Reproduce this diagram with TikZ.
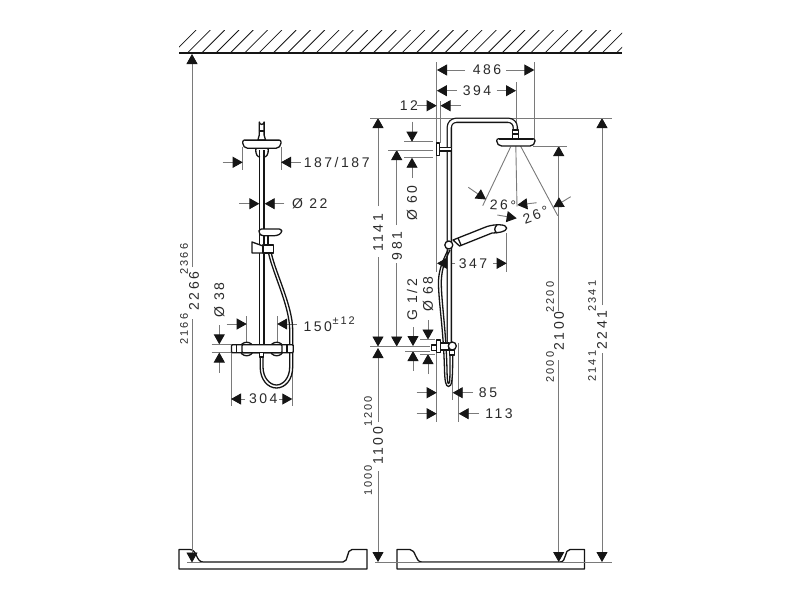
\documentclass[tikz,border=0pt]{standalone}
\usepackage{fontspec}
\newfontfamily\dimfont[LetterSpace=18]{Liberation Sans}
\usetikzlibrary{arrows.meta}
\definecolor{gl}{HTML}{7A7A7A}
\definecolor{ink}{HTML}{151515}
\definecolor{txt}{HTML}{2A2A2A}
\tikzset{
  ref/.style={draw=gl,line width=0.9pt},
  da/.style={draw=gl,line width=0.9pt,-{Triangle[length=10pt,width=11pt,color=ink,fill=ink]}},
  body/.style={draw=ink,line width=1.3pt,fill=white,line join=round},
  open/.style={draw=ink,line width=1.3pt,line join=round},
  tube/.style={draw=ink,line width=1.3pt,double=white,double distance=2.8pt,line join=round},
  big/.style={text=txt,inner sep=0pt,font=\dimfont\fontsize{14}{14}\selectfont},
  small/.style={text=txt,inner sep=0pt,font=\dimfont\fontsize{11}{11}\selectfont},
  up/.style={rotate=90}
}
\begin{document}
\begin{tikzpicture}[x=1pt,y=-1pt]
\useasboundingbox (0,0) rectangle (800,600);
\fill[white] (0,0) rectangle (800,600);
% ceiling
\begin{scope}
\clip (179,30) rectangle (622,53);
\foreach \k in {-2,...,30}{\draw[ink,line width=0.8pt] ({201.7+14.3*\k},53) -- ++(23,-23);}
\end{scope}
\draw[ink,line width=1.6pt] (179,53) -- (622,53);
% tubs
\draw[open] (179,549.5) -- (179,569) -- (367,569) -- (367,549.5) -- (352,549.5) .. controls (346,549.5) and (349,562) .. (343,562) -- (203,562) .. controls (196,562) and (197,549.5) .. (190,549.5) -- cycle;
\draw[open] (397,549.5) -- (397,569) -- (584.5,569) -- (584.5,549.5) -- (570,549.5) .. controls (564,549.5) and (567,562) .. (560,562) -- (421.7,562) .. controls (415,562) and (416,549.5) .. (410,549.5) -- cycle;
\draw[ref] (187,562) -- (203,562);
\draw[ref] (375,562) -- (612,562);
% main height dims
\draw[da] (192,267) -- (192,54);
\draw[da] (192,319) -- (192,562.5);
\draw[da] (378,206) -- (378,118);
\draw[da] (378,257) -- (378,346.5);
\draw[da] (378,422) -- (378,348);
\draw[da] (378,471) -- (378,562);
\draw[da] (396.7,225) -- (396.7,150);
\draw[da] (396.7,263) -- (396.7,346.5);
\draw[da] (558.7,311) -- (558.7,146);
\draw[da] (558.7,360) -- (558.7,562);
\draw[da] (602,305) -- (602,118);
\draw[da] (602,353) -- (602,562);
\draw[ref] (370,118) -- (612,118);
\draw[ref] (533,146) -- (567,146);
\draw[ref] (388,150) -- (433,150);
\draw[ref] (370,346.7) -- (430,346.7);
% right extension lines
\draw[ref] (436.8,62) -- (436.8,272);
\draw[ref] (436.8,340) -- (436.8,422);
\draw[ref] (440.3,101) -- (440.3,143);
\draw[ref] (516,82) -- (516,140);
\draw[ref] (534.3,62) -- (534.3,143);
\draw[ref] (506.7,233) -- (506.7,272);
\draw[ref] (452.7,370) -- (452.7,400);
\draw[ref] (458.7,343) -- (458.7,421.7);
% right horizontal dims
\draw[da] (465,70) -- (437,70);
\draw[da] (506,70) -- (534.3,70);
\draw[da] (456.7,90.7) -- (436.9,90.7);
\draw[da] (496.7,90.7) -- (516,90.7);
\draw[da] (417,105.7) -- (436.7,105.7);
\draw[da] (460.7,105.7) -- (440.5,105.7);
\draw[da] (455,263.3) -- (437,263.3);
\draw[da] (493,263.3) -- (506.7,263.3);
\draw[da] (416.7,392.7) -- (436.7,392.7);
\draw[da] (473,392.7) -- (452.7,392.7);
\draw[da] (416.7,413.7) -- (436.7,413.7);
\draw[da] (479,413.7) -- (458.7,413.7);
% right vertical small dims
\draw[ref] (404,141.7) -- (433,141.7);
\draw[ref] (404,157.7) -- (433,157.7);
\draw[da] (412,121.7) -- (412,141.7);
\draw[da] (412,178) -- (412,157.7);
\draw[da] (413,327) -- (413,346);
\draw[da] (413,370.7) -- (413,351);
\draw[ref] (405,351) -- (430,351);
\draw[da] (428,320) -- (428,339.5);
\draw[da] (428,374) -- (428,354);
\draw[ref] (420,339.5) -- (435,339.5);
\draw[ref] (420,354) -- (435,354);
% spray lines + angle arrows
\draw[ref] (510.7,146.7) -- (482.7,205.7);
\draw[ref] (515.7,140) -- (517,206.7);
\draw[ref] (520,145) -- (557.7,215.7);
\draw[da] (468.3,187.3) -- (486,199.5);
\draw[da] (497.3,215) -- (516.7,218.3);
\draw[da] (536.7,202.7) -- (517.3,205);
\draw[da] (570.7,196.7) -- (553.3,207.3);
% left dims
\draw[ref] (242.7,147) -- (242.7,170);
\draw[ref] (281,147) -- (281,170);
\draw[da] (222.7,162.3) -- (242.7,162.3);
\draw[da] (300.7,162.3) -- (281,162.3);
\draw[da] (239.3,203.7) -- (259.3,203.7);
\draw[da] (284.3,203.7) -- (264.7,203.7);
\draw[ref] (211.7,344.3) -- (241.7,344.3);
\draw[ref] (211.7,352.3) -- (232,352.3);
\draw[da] (219.3,325) -- (219.3,344.3);
\draw[da] (219.3,372.7) -- (219.3,352.5);
\draw[ref] (246.7,316) -- (246.7,345);
\draw[ref] (277,316) -- (277,345);
\draw[da] (226.7,324) -- (246.7,324);
\draw[da] (296.7,324) -- (277.2,324);
\draw[ref] (231,345) -- (231,405.7);
\draw[ref] (292.3,345) -- (292.3,405.7);
\draw[da] (245,399) -- (231,399);
\draw[da] (279,399) -- (292.3,399);
% ===== left shower =====
\draw[open] (270.7,250) .. controls (274,270) and (292.7,305) .. (292.7,330) -- (292.7,367) .. controls (292.7,380) and (285,388) .. (276.5,388) .. controls (268,388) and (260.2,380) .. (260.2,367) -- (260.2,354);
\draw[open] (268,250) .. controls (271,270) and (289.7,305) .. (289.7,330) -- (289.7,367) .. controls (289.7,378) and (283,385) .. (276.5,385) .. controls (270,385) and (263,378) .. (263,367) -- (263,354);
\draw[tube] (261.8,345) -- (261.8,150);
\draw[open] (256,148) .. controls (255,155) and (258,157) .. (260,157);
\draw[open] (268,148) .. controls (269,155) and (266,157) .. (264,157);
\draw[body] (259.3,135) -- (259.3,122) arc (180:0:2.4) -- (264.1,135) -- (265.5,140) -- (257.9,140) -- cycle;
\draw[open] (258.5,131) -- (264.5,131);
\draw[body,rounded corners=2pt] (242.7,140) -- (281,140) -- (281,145) -- (278,148.3) -- (245.7,148.3) -- (242.7,145) -- cycle;
\draw[ink,line width=1.8pt] (245,140.5) -- (279,140.5);
\draw[body,rounded corners=2.5pt] (259,229) -- (281.7,229) -- (281.7,233) -- (277,235.7) -- (261,235.7) -- (259,233) -- cycle;
\draw[body] (252,242) -- (252,253) -- (263,253) -- (263,246) -- cycle;
\draw[body] (263,245) rectangle (273.3,253);
\draw[open] (259.3,236) -- (259.3,245);
\draw[open] (264.3,236) -- (264.3,245);
\draw[open] (268,236) -- (268,245);
\draw[body] (240,349) .. controls (240,340) and (253.4,340) .. (253.4,349) .. controls (253.4,358) and (240,358) .. cycle;
\draw[body] (270,349) .. controls (270,340) and (283.4,340) .. (283.4,349) .. controls (283.4,358) and (270,358) .. cycle;
\draw[body,rounded corners=1pt] (231.5,344.7) rectangle (293.3,352.7);
\draw[body,rounded corners=1pt] (242,344.7) rectangle (282,352.7);
\draw[open] (236.5,344.7) -- (236.5,352.7);
\draw[open] (287,344.7) -- (287,352.7);
\draw[body] (259.5,352.7) rectangle (263.5,357);
% ===== right shower =====
\draw[tube,rounded corners=7pt] (449.3,342) -- (449.3,120.3) -- (515.3,120.3) -- (515.3,132);
\draw[open] (448,250) .. controls (442,262) and (438,272) .. (438.5,285) .. controls (439,305) and (443.5,330) .. (444.5,370) .. controls (444.8,380) and (445.5,386.5) .. (448.5,386.5) .. controls (452,386.5) and (452.7,380) .. (452.7,355);
\draw[open] (450,250) .. controls (444,262) and (441,272) .. (441.3,285) .. controls (441.8,305) and (446,330) .. (447,370) .. controls (447.2,380) and (447.7,383.5) .. (448.5,383.5) .. controls (450,383.5) and (450,380) .. (450,355);
\draw[body] (512.5,130) rectangle (518.5,139);
\draw[open] (512.5,134) -- (518.5,134);
\draw[body,rounded corners=2pt] (496.7,138.7) -- (535,138.7) -- (535,143) -- (532,146) -- (499.7,146) -- (496.7,143) -- cycle;
\draw[ink,line width=1.8pt] (499,139.2) -- (533,139.2);
\draw[body] (439.3,147.3) rectangle (451.5,151);
\draw[body] (436.8,143) rectangle (439.5,155.5);
% hand shower
\draw[body] (453,240) -- (487,226.5) .. controls (495,224) and (506.7,224) .. (506.7,228) .. controls (506.7,232) and (497,233) .. (492,233) -- (459.5,246) -- cycle;
\draw[open] (497,224.8) .. controls (494,228) and (494,231) .. (497,233);
\draw[open] (458,238) -- (461,245);
\draw[body] (448.8,245) circle (4);
% mixer
\draw[body] (431.7,345) rectangle (436.3,350.7);
\draw[body] (436.3,340) rectangle (440.7,352.7);
\draw[body] (440.7,343) rectangle (449,350);
\draw[body] (449.5,350) rectangle (454.2,355);
\draw[body] (452.3,346) circle (4);
% ===== texts =====
\node[big] (t486) at (487,70) {486};
\node[big] (t394) at (477,90.7) {394};
\node[big] (t12) at (409,105.7) {12};
\node[big,up] (t60) at (412,203) {Ø 60};
\node[big,up] (t1141) at (378,233) {1141};
\node[big,up] (t981) at (397,246) {981};
\node[big] (t347) at (473,263.3) {347};
\node[big,up] (tg) at (412,300) {G 1/2};
\node[big,up] (t68) at (428,294) {Ø 68};
\node[big] (t85) at (488,392.7) {85};
\node[big] (t113) at (499,413.7) {113};
\node[big,rotate=-3] (t26a) at (503,205) {26°};
\node[big,rotate=20] (t26b) at (535.7,215) {26°};
\node[big] (t187) at (336.7,162.3) {187/187};
\node[big] (t22) at (309.7,203.7) {Ø 22};
\node[big,up] (t38) at (219.3,300) {Ø 38};
\node[big] (t150) at (317.7,326.7) {150};
\node[small] (tpm) at (343.7,320.7) {±12};
\node[big] (t304) at (263.3,399) {304};
\node[small,up] (t2366) at (184,259) {2366};
\node[big,up] (t2266) at (194,291) {2266};
\node[small,up] (t2166) at (184,329) {2166};
\node[small,up] (t1200) at (368,411.5) {1200};
\node[big,up] (t1100) at (378,446) {1100};
\node[small,up] (t1000) at (368,480.5) {1000};
\node[small,up] (t2200) at (550,297) {2200};
\node[big,up] (t2100) at (559,331) {2100};
\node[small,up] (t2000) at (550,367) {2000};
\node[small,up] (t2341) at (592,296) {2341};
\node[big,up] (t2241) at (602,330) {2241};
\node[small,up] (t2141) at (592,366) {2141};
\end{tikzpicture}
\end{document}
